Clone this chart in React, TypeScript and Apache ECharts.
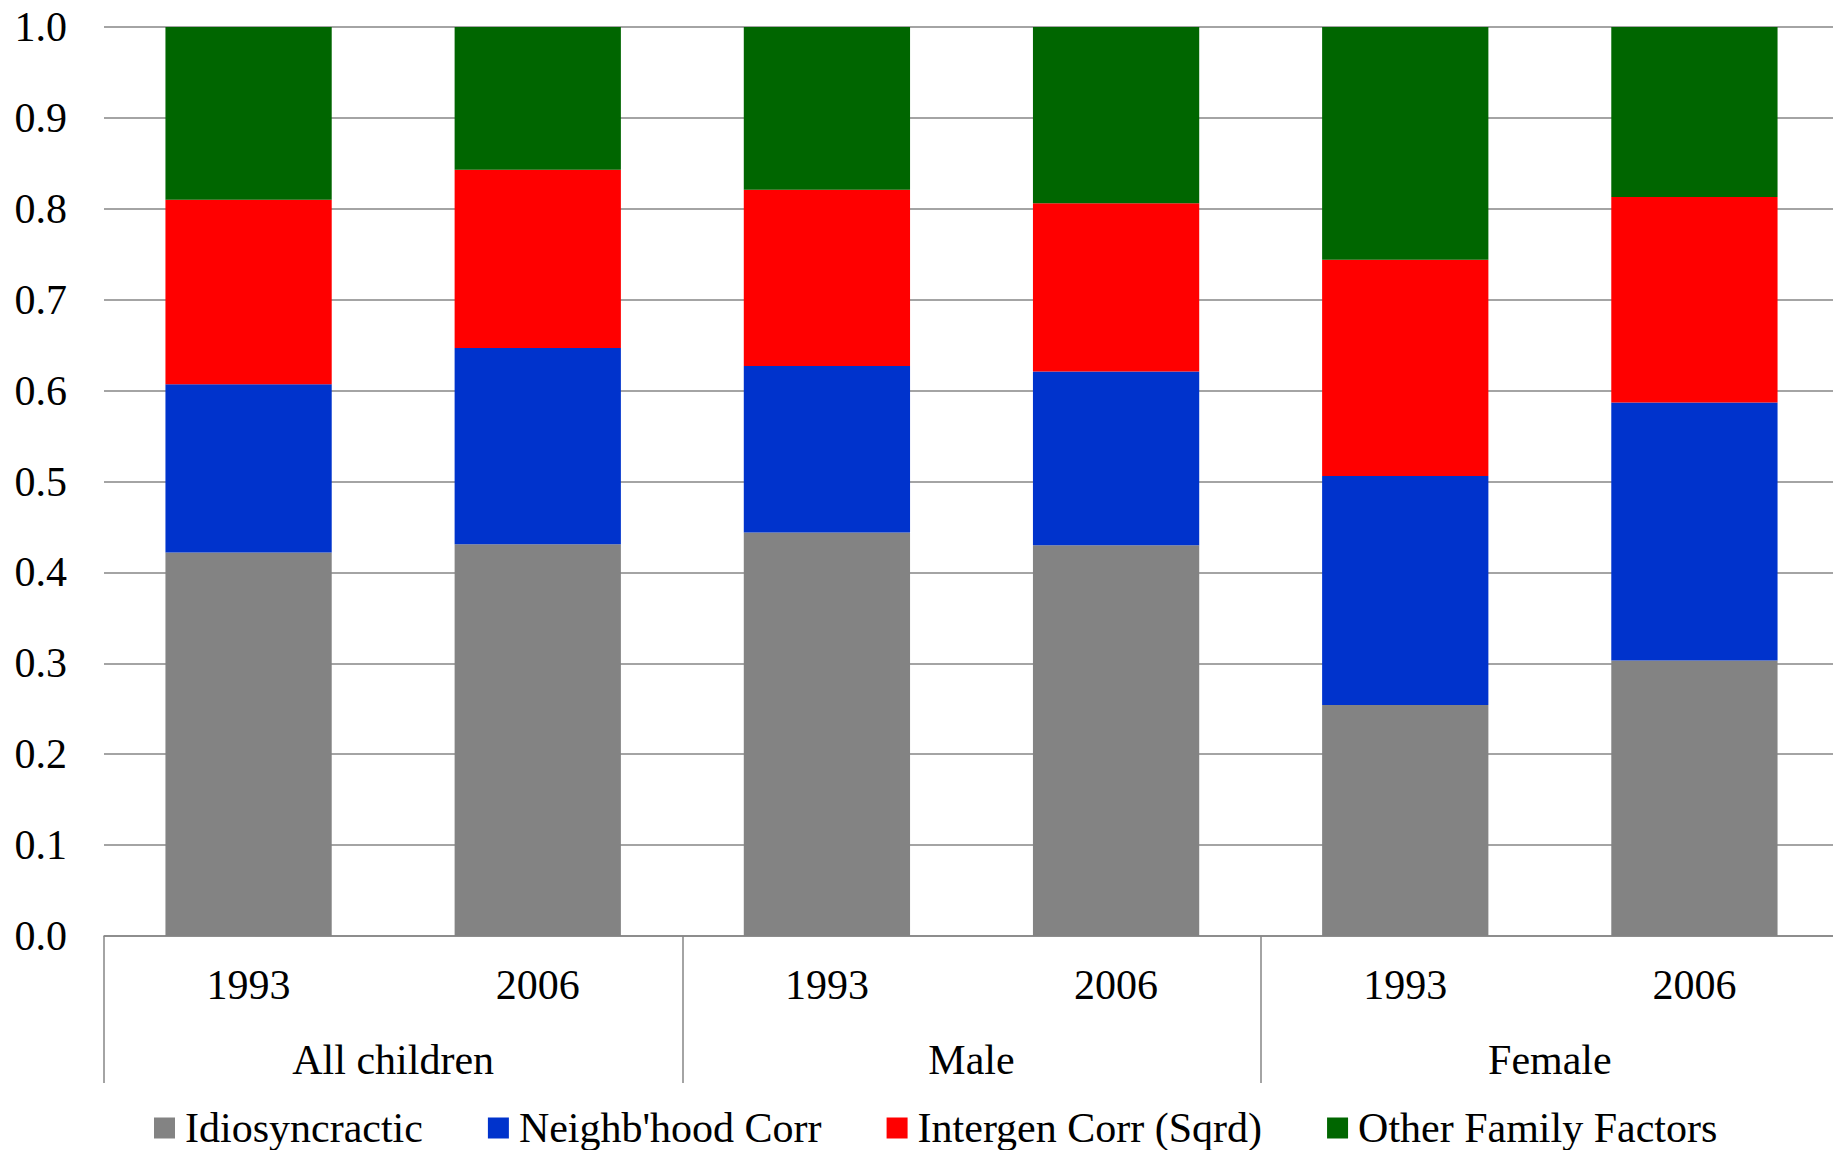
import React, { useEffect, useRef } from "react";
import * as echarts from "echarts";

const years = ["1993", "2006", "1993", "2006", "1993", "2006"];
const groups = ["All children", "Male", "Female"];
const yTicks = [0, 0.1, 0.2, 0.3, 0.4, 0.5, 0.6, 0.7, 0.8, 0.9, 1.0];

const idiosyncratic = [0.422, 0.431, 0.444, 0.43, 0.254, 0.303];
const neighbourhood = [0.185, 0.216, 0.183, 0.191, 0.252, 0.284];
const intergen = [0.203, 0.196, 0.194, 0.185, 0.238, 0.226];
const otherFamily = [0.19, 0.157, 0.179, 0.194, 0.256, 0.187];

const seriesNames = [
  "Idiosyncractic",
  "Neighb'hood Corr",
  "Intergen Corr (Sqrd)",
  "Other Family Factors",
];
const seriesColors = ["#838383", "#0033CC", "#FF0000", "#006600"];

const FONT = "'Liberation Serif', 'Times New Roman', serif";

export default function App() {
  const ref = useRef<HTMLDivElement>(null);

  useEffect(() => {
    document.body.style.margin = "0";
    if (!ref.current) return;
    const chart = echarts.init(ref.current, null, { renderer: "svg" });
    const values = [idiosyncratic, neighbourhood, intergen, otherFamily];
    chart.setOption({
      animation: false,
      backgroundColor: "#ffffff",
      textStyle: { fontFamily: FONT },
      grid: {
        left: 104,
        top: 27,
        width: 1735,
        height: 909,
        containLabel: false,
        outerBoundsMode: "none",
      },
      legend: {
        left: 149,
        top: 1102,
        itemWidth: 21,
        itemHeight: 21,
        itemGap: 65,
        icon: "rect",
        data: seriesNames,
        textStyle: {
          fontFamily: FONT,
          fontSize: 42,
          color: "#000",
          padding: [0, 0, 0, 5],
        },
      },
      xAxis: [
        {
          type: "category",
          data: years,
          position: "bottom",
          axisLine: { show: true, lineStyle: { color: "#868686", width: 1.5 } },
          axisTick: { show: false },
          axisLabel: {
            fontFamily: FONT,
            fontSize: 42,
            color: "#000",
            margin: 28,
            lineHeight: 42,
            interval: 0,
          },
        },
        {
          type: "category",
          data: groups,
          position: "bottom",
          axisLine: { show: false },
          axisTick: {
            show: true,
            length: 147,
            interval: 0,
            lineStyle: { color: "#868686", width: 1.5 },
          },
          axisLabel: {
            fontFamily: FONT,
            fontSize: 42,
            color: "#000",
            margin: 103,
            lineHeight: 42,
            interval: 0,
          },
        },
      ],
      yAxis: {
        type: "value",
        min: 0,
        max: 1,
        interval: 0.1,
        axisLine: { show: false },
        axisTick: { show: false },
        splitLine: { show: true, lineStyle: { color: "#868686", width: 1.5 } },
        axisLabel: {
          fontFamily: FONT,
          fontSize: 42,
          color: "#000",
          margin: 37,
          formatter: (v: number) => {
            const t = yTicks.find((x) => Math.abs(x - v) < 1e-6);
            return (t !== undefined ? t : v).toFixed(1);
          },
        },
      },
      series: seriesNames.map((name, i) => ({
        name,
        type: "bar",
        stack: "total",
        xAxisIndex: 0,
        barCategoryGap: "42.5%",
        itemStyle: { color: seriesColors[i] },
        data: values[i],
      })),
    });
    return () => chart.dispose();
  }, []);

  return <div ref={ref} style={{ width: 1833, height: 1150 }} />;
}
